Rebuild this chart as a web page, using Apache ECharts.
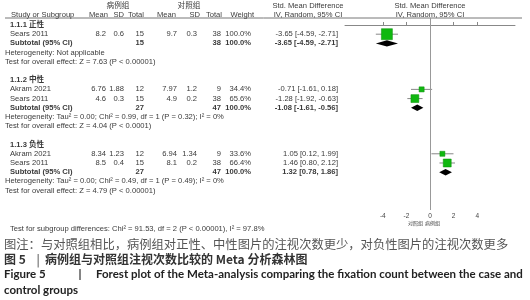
<!DOCTYPE html>
<html>
<head>
<meta charset="utf-8">
<script src="https://cdn.jsdelivr.net/npm/echarts@6/dist/echarts.min.js"></script>
<style>
html, body { margin: 0; padding: 0; background: #fff; }
#main { width: 530px; height: 300px; }
</style>
</head>
<body>
<div id="main"></div>
<script>
// 亚组与研究
const groupNames = ['1.1.1 正性', '1.1.2 中性', '1.1.3 负性']
const studyGroup = [0, 1, 1, 2, 2]
const studyNames = ['Sears 2011', 'Akram 2021', 'Sears 2011', 'Akram 2021', 'Sears 2011']
// 病例组
const caseMean = [8.2, 6.76, 4.6, 8.34, 8.5]
const caseSd = [0.6, 1.88, 0.3, 1.23, 0.4]
const caseN = [15, 12, 15, 12, 15]
// 对照组
const ctrlMean = [9.7, 7.97, 4.9, 6.94, 8.1]
const ctrlSd = [0.3, 1.2, 0.2, 1.34, 0.2]
const ctrlN = [38, 9, 38, 9, 38]
// 权重与效应量
const weights = [100.0, 34.4, 65.6, 33.6, 66.4]
const smd = [-3.65, -0.71, -1.28, 1.05, 1.46]
const smdLo = [-4.59, -1.61, -1.92, 0.12, 0.80]
const smdHi = [-2.71, 0.18, -0.63, 1.99, 2.12]
// 合并
const subCaseN = [15, 27, 27]
const subCtrlN = [38, 47, 47]
const subSmd = [-3.65, -1.08, 1.32]
const subLo = [-4.59, -1.61, 0.78]
const subHi = [-2.71, -0.56, 1.86]
const hetText = [
  'Heterogeneity: Not applicable',
  'Heterogeneity: Tau² = 0.00; Chi² = 0.99, df = 1 (P = 0.32); I² = 0%',
  'Heterogeneity: Tau² = 0.00; Chi² = 0.49, df = 1 (P = 0.49); I² = 0%'
]
const effectText = [
  'Test for overall effect: Z = 7.63 (P < 0.00001)',
  'Test for overall effect: Z = 4.04 (P < 0.0001)',
  'Test for overall effect: Z = 4.79 (P < 0.00001)'
]
const subgroupText = 'Test for subgroup differences: Chi² = 91.53, df = 2 (P < 0.00001), I² = 97.8%'
const xTicks = [-4, -2, 0, 2, 4]

// 行号
let r = 0
const headRow = []
const studyRow = []
const subRow = []
const hetRow = []
const testRow = []
groupNames.forEach(function (g, gi) {
  headRow.push(r++)
  studyGroup.forEach(function (sg, i) {
    if (sg === gi) studyRow[i] = r++
  })
  subRow.push(r++)
  hetRow.push(r++)
  testRow.push(r++)
  r++
})

const studyData = smd.map(function (v, i) {
  return [v, studyRow[i], smdLo[i], smdHi[i], weights[i]]
})
const subData = subSmd.map(function (v, i) {
  return [v, subRow[i], subLo[i], subHi[i]]
})

const FONT = '"Liberation Sans", Arial, "Noto Sans CJK SC", sans-serif'

let option = {
  animation: false,
  backgroundColor: '#fff',
  grid: { left: 345, right: 15, top: 18, height: 192 },
  xAxis: {
    type: 'value',
    min: -7.2,
    max: 7.2,
    splitLine: { show: false },
    axisLine: { lineStyle: { color: '#888', width: 1 } },
    axisTick: { customValues: xTicks, inside: true, length: 3, lineStyle: { color: '#888' } },
    axisLabel: { customValues: xTicks, fontSize: 6.5, color: '#444', margin: 3, fontFamily: FONT }
  },
  yAxis: { type: 'value', inverse: true, min: -0.76, max: 20.11, show: false },
  series: [
    {
      type: 'custom',
      data: studyData,
      renderItem: function (params, api) {
        const c = api.coord([api.value(0), api.value(1)])
        const p1 = api.coord([api.value(2), api.value(1)])
        const p2 = api.coord([api.value(3), api.value(1)])
        const s = 2 + 9 * api.value(4) / 100
        return {
          type: 'group',
          children: [
            { type: 'line', shape: { x1: p1[0], y1: p1[1], x2: p2[0], y2: p2[1] }, style: { stroke: '#888', lineWidth: 1 } },
            { type: 'rect', shape: { x: c[0] - s / 2, y: c[1] - s / 2, width: s, height: s }, style: { fill: '#10b810', stroke: '#0a8f0a', lineWidth: 0.5 } }
          ]
        }
      },
      markLine: {
        silent: true,
        symbol: 'none',
        label: { show: false },
        lineStyle: { color: '#999', width: 1, type: 'solid' },
        data: [{ xAxis: 0 }]
      },
      z: 3
    },
    {
      type: 'custom',
      data: subData,
      renderItem: function (params, api) {
        const c = api.coord([api.value(0), api.value(1)])
        const p1 = api.coord([api.value(2), api.value(1)])
        const p2 = api.coord([api.value(3), api.value(1)])
        const h = 3.2
        return {
          type: 'polygon',
          shape: { points: [[p1[0], c[1]], [c[0], c[1] - h], [p2[0], c[1]], [c[0], c[1] + h]] },
          style: { fill: '#000' }
        }
      },
      z: 4
    }
  ]
}

const chart = echarts.init(document.getElementById('main'))
chart.setOption(option)

function rowY (row) {
  return chart.convertToPixel({ xAxisIndex: 0, yAxisIndex: 0 }, [0, row])[1]
}
function txt (x, y, s, opt) {
  const st = Object.assign({
    text: s, fill: '#3a3a3a', fontSize: 7.6, fontFamily: FONT, fontWeight: 'normal',
    align: 'left', verticalAlign: 'middle', textVerticalAlign: 'middle'
  }, opt || {})
  st.textAlign = st.align
  return { type: 'text', x: x, y: y, silent: true, style: st }
}
const R = { align: 'right' }
const RB = { align: 'right', fontWeight: 'bold' }
const C = { align: 'center' }

let g = []
// 表头
g.push({ type: 'line', shape: { x1: 5, y1: 18, x2: 522, y2: 18 }, style: { stroke: '#777', lineWidth: 1 } })
g.push(txt(118, 6, '病例组', C))
g.push(txt(189, 6, '对照组', C))
g.push(txt(308, 6, 'Std. Mean Difference', C))
g.push(txt(308, 14.5, 'IV, Random, 95% CI', C))
g.push(txt(430, 6, 'Std. Mean Difference', C))
g.push(txt(430, 14.5, 'IV, Random, 95% CI', C))
g.push(txt(11, 14.5, 'Study or Subgroup'))
g.push(txt(108, 14.5, 'Mean', R))
g.push(txt(124, 14.5, 'SD', R))
g.push(txt(144, 14.5, 'Total', R))
g.push(txt(176, 14.5, 'Mean', R))
g.push(txt(200, 14.5, 'SD', R))
g.push(txt(222, 14.5, 'Total', R))
g.push(txt(254, 14.5, 'Weight', R))

groupNames.forEach(function (name, gi) {
  g.push(txt(10, rowY(headRow[gi]), name, { fontWeight: 'bold' }))
  const ys = rowY(subRow[gi])
  g.push(txt(10, ys, 'Subtotal (95% CI)', { fontWeight: 'bold' }))
  g.push(txt(144, ys, String(subCaseN[gi]), RB))
  g.push(txt(221, ys, String(subCtrlN[gi]), RB))
  g.push(txt(251, ys, '100.0%', RB))
  g.push(txt(338, ys, subSmd[gi].toFixed(2) + ' [' + subLo[gi].toFixed(2) + ', ' + subHi[gi].toFixed(2) + ']', RB))
  g.push(txt(5, rowY(hetRow[gi]), hetText[gi]))
  g.push(txt(5, rowY(testRow[gi]), effectText[gi]))
})

studyNames.forEach(function (name, i) {
  const y = rowY(studyRow[i])
  g.push(txt(10, y, name))
  g.push(txt(106, y, String(caseMean[i]), R))
  g.push(txt(124, y, String(caseSd[i]), R))
  g.push(txt(144, y, String(caseN[i]), R))
  g.push(txt(177, y, String(ctrlMean[i]), R))
  g.push(txt(197, y, String(ctrlSd[i]), R))
  g.push(txt(221, y, String(ctrlN[i]), R))
  g.push(txt(251, y, weights[i].toFixed(1) + '%', R))
  g.push(txt(338, y, smd[i].toFixed(2) + ' [' + smdLo[i].toFixed(2) + ', ' + smdHi[i].toFixed(2) + ']', R))
})

g.push(txt(10, 229, subgroupText))
g.push(txt(423, 224, '对照组', { align: 'right', fontSize: 5 }))
g.push(txt(425, 224, '病例组', { fontSize: 5 }))

// 图注
const CJK = '"Noto Sans CJK SC", sans-serif'
const EN = 'Lato, sans-serif'
g.push(txt(4, 244, '图注：与对照组相比，病例组对正性、中性图片的注视次数更少，对负性图片的注视次数更多', { fontSize: 12.3, fontFamily: CJK, fill: '#555' }))
g.push(txt(4, 259, '图 5', { fontSize: 12, fontFamily: CJK, fill: '#333', fontWeight: 'bold' }))
g.push(txt(38, 259, '|', { fontSize: 12, fontFamily: CJK, fill: '#333', align: 'center' }))
g.push(txt(45, 259, '病例组与对照组注视次数比较的 Meta 分析森林图', { fontSize: 12, fontFamily: CJK, fill: '#333', fontWeight: 'bold' }))
g.push(txt(4, 274, 'Figure 5', { fontSize: 11.5, fontFamily: EN, fill: '#222', fontWeight: 'bold' }))
g.push(txt(80, 274, '|', { fontSize: 11.5, fontFamily: EN, fill: '#222', fontWeight: 'bold', align: 'center' }))
g.push(txt(96, 274, 'Forest plot of the Meta-analysis comparing the fixation count between the case and', { fontSize: 11.5, fontFamily: EN, fill: '#222', fontWeight: 'bold' }))
g.push(txt(4, 290, 'control groups', { fontSize: 11.5, fontFamily: EN, fill: '#222', fontWeight: 'bold' }))

chart.setOption({ graphic: { elements: g } })
</script>
</body>
</html>
